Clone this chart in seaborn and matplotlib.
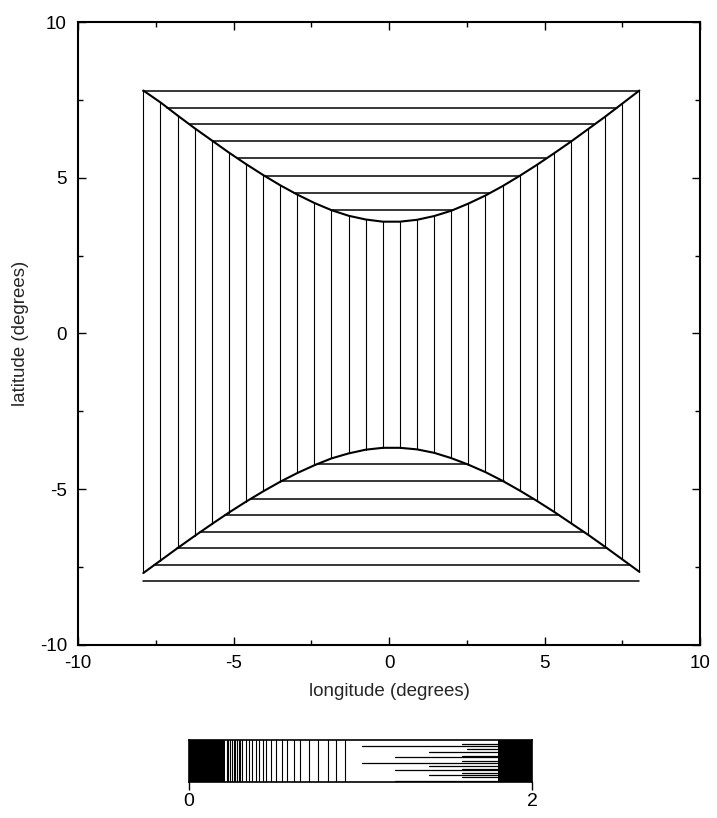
import numpy as np
import pandas as pd
import matplotlib
matplotlib.use("Agg")
import matplotlib.pyplot as plt
from matplotlib.ticker import MultipleLocator
import seaborn as sns

# ---------------- data ----------------
# x positions of the vertical grid lines (degrees)
vline_x = [-7.90, -7.35, -6.80, -6.25, -5.70, -5.15, -4.60, -4.05, -3.50, -2.95,
           -2.40, -1.85, -1.30, -0.75, -0.20, 0.35, 0.90, 1.45, 2.00, 2.55,
           3.10, 3.65, 4.20, 4.75, 5.30, 5.85, 6.40, 6.95, 7.50, 8.05]
# upper boundary curve (latitude at each vertical line)
top_curve_y = [7.80, 7.42, 7.00, 6.59, 6.20, 5.81, 5.44, 5.09, 4.76, 4.46,
               4.19, 3.96, 3.78, 3.66, 3.59, 3.59, 3.65, 3.77, 3.94, 4.17,
               4.43, 4.73, 5.06, 5.41, 5.78, 6.16, 6.56, 6.96, 7.38, 7.80]
# lower boundary curve
bottom_curve_y = [-7.69, -7.29, -6.89, -6.50, -6.12, -5.75, -5.40, -5.07, -4.76, -4.48,
                  -4.23, -4.01, -3.85, -3.73, -3.67, -3.67, -3.72, -3.83, -4.00, -4.21,
                  -4.45, -4.73, -5.04, -5.37, -5.72, -6.09, -6.46, -6.85, -7.25, -7.65]
# horizontal grid lines above the upper curve and below the lower curve
top_hline_y = [7.80, 7.25, 6.71, 6.17, 5.62, 5.06, 4.51, 3.96]
bottom_hline_y = [-4.20, -4.75, -5.30, -5.84, -6.37, -6.90, -7.43, -7.96]

# colour-bar pattern (values on 0..2 scale)
cbar_black = [(0.0, 0.21), (1.80, 2.0)]
cbar_vlines = [0.22, 0.23, 0.24, 0.25, 0.26, 0.27, 0.28, 0.29, 0.30, 0.31,
               0.33, 0.35, 0.37, 0.39, 0.41, 0.43, 0.45, 0.48, 0.51, 0.54,
               0.57, 0.61, 0.65, 0.70, 0.75, 0.81, 0.86, 0.91]
cbar_hline_frac = [0.85, 0.89, 0.78, 0.70, 0.62, 0.58, 0.50, 0.44, 0.38, 0.31,
                   0.28, 0.20, 0.15, 0.10, 0.02]
cbar_hline_start = [1.01, 1.59, 1.62, 1.40, 1.59, 1.20, 1.59, 1.01, 1.40, 1.59,
                    1.20, 1.59, 1.40, 1.59, 1.20]
cbar_hline_end = 1.80
cbar_ticks = [0, 2]

# ---------------- build segment table ----------------
vx = np.array(vline_x)
ty = np.array(top_curve_y)
by = np.array(bottom_curve_y)
imin_t = int(np.argmin(ty))
imax_b = int(np.argmax(by))

rows = []
seg = 0
for x, y0, y1 in zip(vx, by, ty):
    rows += [(x, y0, seg, "grid"), (x, y1, seg, "grid")]
    seg += 1
# top horizontals: from left branch of curve to right branch
lx, ly = vx[:imin_t + 1][::-1], ty[:imin_t + 1][::-1]
rx, ry = vx[imin_t + 1:], ty[imin_t + 1:]
for y in top_hline_y:
    xl = np.interp(y, ly, lx)
    xr = np.interp(y, ry, rx)
    rows += [(xl, y, seg, "hgrid"), (xr, y, seg, "hgrid")]
    seg += 1
blx, bly = vx[:imax_b + 1], by[:imax_b + 1]
brx, bry = vx[imax_b + 1:][::-1], by[imax_b + 1:][::-1]
for y in bottom_hline_y:
    xl = np.interp(y, bly, blx)
    xr = np.interp(y, bry, brx)
    rows += [(xl, y, seg, "hgrid"), (xr, y, seg, "hgrid")]
    seg += 1
grid_df = pd.DataFrame(rows, columns=["x", "y", "seg", "kind"])

curve_df = pd.concat([
    pd.DataFrame({"x": vx, "y": ty, "seg": 0}),
    pd.DataFrame({"x": vx, "y": by, "seg": 1}),
])

# ---------------- plot ----------------
sns.set_theme(style="white")
plt.rcParams["font.family"] = ["Liberation Sans", "DejaVu Sans"]
plt.rcParams["axes.unicode_minus"] = False

fig = plt.figure(figsize=(7.17, 8.18), dpi=100)
ax = fig.add_axes([0.1088, 0.2115, 0.8675, 0.7616])

sns.lineplot(data=grid_df[grid_df["kind"] == "grid"], x="x", y="y", units="seg",
             estimator=None, sort=False, color="black", lw=0.8, ax=ax)
sns.lineplot(data=grid_df[grid_df["kind"] == "hgrid"], x="x", y="y", units="seg",
             estimator=None, sort=False, color="black", lw=1.1, ax=ax)
sns.lineplot(data=curve_df, x="x", y="y", units="seg",
             estimator=None, sort=False, color="black", lw=1.5, ax=ax)

ax.set_xlim(-10, 10)
ax.set_ylim(-10, 10)
ax.set_xticks([-10, -5, 0, 5, 10])
ax.set_yticks([-10, -5, 0, 5, 10])
ax.xaxis.set_minor_locator(MultipleLocator(2.5))
ax.yaxis.set_minor_locator(MultipleLocator(2.5))
ax.tick_params(which="both", direction="in", top=True, right=True,
               bottom=True, left=True, colors="black", labelsize=13.5, width=1)
ax.tick_params(which="major", length=6)
ax.tick_params(which="minor", length=3.5)
ax.tick_params(axis="x", which="major", pad=7)
ax.tick_params(axis="y", which="major", pad=8)
ax.set_xlabel("longitude (degrees)", fontsize=13.5, labelpad=8)
ax.set_ylabel("latitude (degrees)", fontsize=13.5, labelpad=8)
for s in ax.spines.values():
    s.set_color("black")
    s.set_linewidth(1.5)

# ---------------- colour bar ----------------
cax = fig.add_axes([0.2636, 0.0445, 0.4784, 0.0513])
for a, b in cbar_black:
    cax.axvspan(a, b, color="black", lw=0)
cv_rows = []
for i, v in enumerate(cbar_vlines):
    cv_rows += [(v, 0.0, i), (v, 1.0, i)]
cv_df = pd.DataFrame(cv_rows, columns=["x", "y", "seg"])
sns.lineplot(data=cv_df, x="x", y="y", units="seg", estimator=None, sort=False,
             color="black", lw=0.8, ax=cax)
ch_rows = []
for i, (f, s0) in enumerate(zip(cbar_hline_frac, cbar_hline_start)):
    ch_rows += [(s0, f, i), (cbar_hline_end, f, i)]
ch_df = pd.DataFrame(ch_rows, columns=["x", "y", "seg"])
sns.lineplot(data=ch_df, x="x", y="y", units="seg", estimator=None, sort=False,
             color="black", lw=0.9, ax=cax)
cax.set_xlim(0, 2)
cax.set_ylim(0, 1)
cax.set_xticks(cbar_ticks)
cax.set_xticklabels([str(t) for t in cbar_ticks])
cax.set_yticks([])
cax.set_xlabel("")
cax.set_ylabel("")
cax.tick_params(axis="x", direction="out", length=6, width=1, labelsize=14,
                colors="black", bottom=True, pad=2)
for s in cax.spines.values():
    s.set_color("black")
    s.set_linewidth(1.2)

fig.savefig("out.png", dpi=100, facecolor="white")
